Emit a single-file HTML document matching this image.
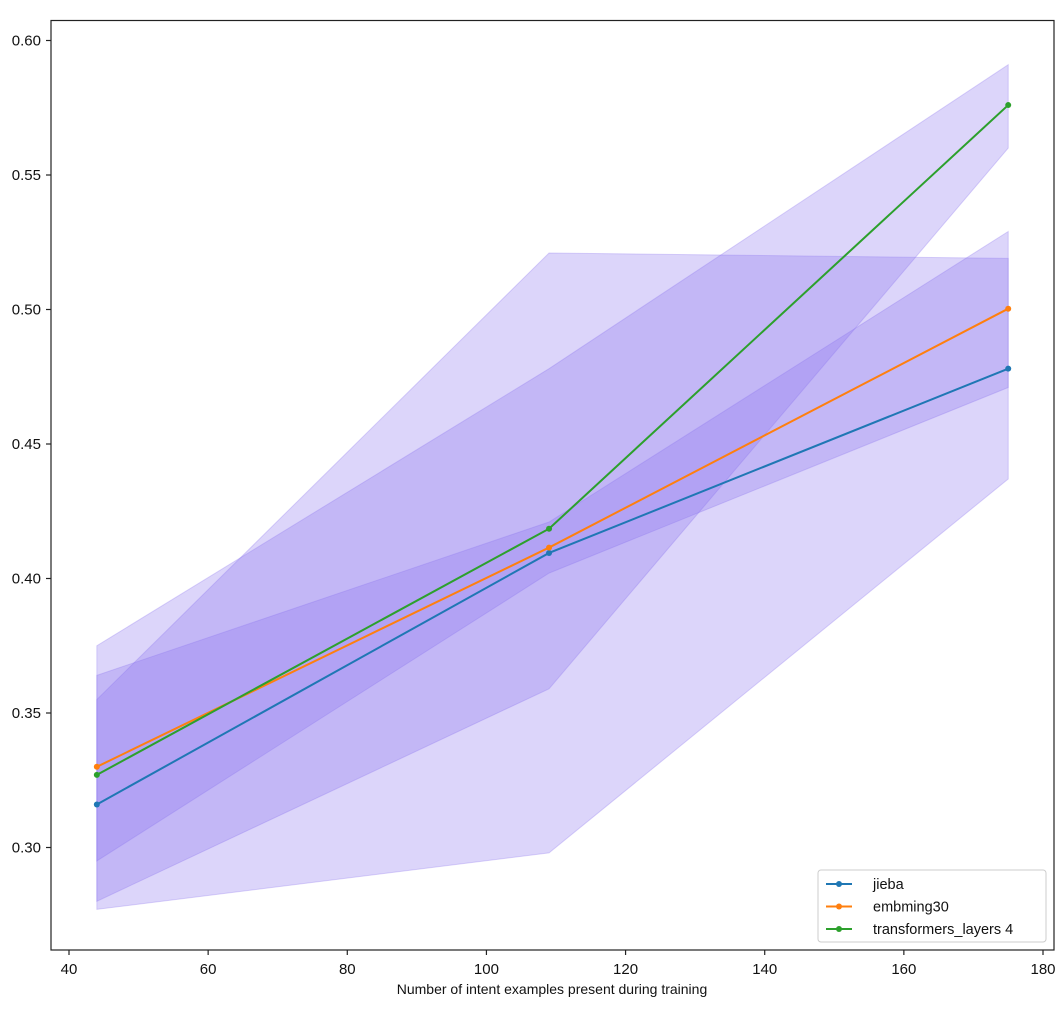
<!DOCTYPE html>
<html><head><meta charset="utf-8"><style>
html,body{margin:0;padding:0;background:#fff;}
svg{display:block;font-family:"Liberation Sans","DejaVu Sans",sans-serif;}
</style></head><body>
<svg id="chart" width="1064" height="1025" viewBox="0 0 1064 1025">
<g id="bands"></g>
<g id="lines"></g>
<rect x="51" y="20.5" width="1003" height="929.5" fill="none" stroke="#222" stroke-width="1.2"/>
<g id="xaxis"></g>
<g id="yaxis"></g>
<text x="552" y="994" font-size="14" text-anchor="middle" fill="#111">Number of intent examples present during training</text>
<g id="legend"></g>
</svg>
<script>
const xs = [44, 109, 175];
const seriesNames = ["jieba", "embming30", "transformers_layers 4"];
const seriesColors = ["#1f77b4", "#ff7f0e", "#2ca02c"];
const jiebaMean = [0.316, 0.4095, 0.478];
const embMean = [0.330, 0.4115, 0.5003];
const transMean = [0.327, 0.4185, 0.576];
const jiebaUpper = [0.355, 0.521, 0.519];
const jiebaLower = [0.277, 0.298, 0.437];
const embUpper = [0.364, 0.421, 0.529];
const embLower = [0.295, 0.402, 0.471];
const transUpper = [0.375, 0.478, 0.591];
const transLower = [0.280, 0.359, 0.560];
const xTicks = [40, 60, 80, 100, 120, 140, 160, 180];
const yTicks = [0.30, 0.35, 0.40, 0.45, 0.50, 0.55, 0.60];

const NS = "http://www.w3.org/2000/svg";
function X(v){ return 69 + (v - 40) * (974 / 140); }
function Y(v){ return 847.5 - (v - 0.30) * (134.5 / 0.05); }
function mk(tag, attrs, parent){ const e = document.createElementNS(NS, tag); for (const k in attrs) e.setAttribute(k, attrs[k]); parent.appendChild(e); return e; }

const means = [jiebaMean, embMean, transMean];
const uppers = [jiebaUpper, embUpper, transUpper];
const lowers = [jiebaLower, embLower, transLower];
const bands = document.getElementById("bands");
for (let s = 0; s < 3; s++) {
  let pts = xs.map((x, i) => X(x) + "," + Y(uppers[s][i]));
  for (let i = xs.length - 1; i >= 0; i--) pts.push(X(xs[i]) + "," + Y(lowers[s][i]));
  const p = mk("polygon", {points: pts.join(" "), fill: "#8a73ee", "fill-opacity": 0.3, stroke: "#8a73ee", "stroke-opacity": 0.3, "stroke-width": 1}, bands);
  
  
}
const lines = document.getElementById("lines");
for (let s = 0; s < 3; s++) {
  const pl = mk("polyline", {points: xs.map((x, i) => X(x) + "," + Y(means[s][i])).join(" "), fill: "none", stroke: seriesColors[s], "stroke-width": 2}, lines);
  
  
  xs.forEach((x, i) => {
    const c = mk("circle", {cx: X(x), cy: Y(means[s][i]), r: 3, fill: seriesColors[s]}, lines);
    
    
  });
}
const xa = document.getElementById("xaxis");
xTicks.forEach(t => {
  const l = mk("line", {x1: X(t), x2: X(t), y1: 950, y2: 955, stroke: "#222", "stroke-width": 1.2}, xa);
  
  
  const tx = mk("text", {x: X(t), y: 974, "font-size": 15, "text-anchor": "middle", fill: "#111"}, xa);
  tx.textContent = t;
  
  
});
const ya = document.getElementById("yaxis");
yTicks.forEach(t => {
  const l = mk("line", {x1: 46, x2: 51, y1: Y(t), y2: Y(t), stroke: "#222", "stroke-width": 1.2}, ya);
  
  
  const tx = mk("text", {x: 41, y: Y(t) + 5, "font-size": 15, "text-anchor": "end", fill: "#111"}, ya);
  tx.textContent = t.toFixed(2);
  
  
});
const lg = document.getElementById("legend");
const box = mk("rect", {x: 818, y: 870, width: 228, height: 72, rx: 3, fill: "#fff", "fill-opacity": 0.85, stroke: "#ccc", "stroke-width": 1}, lg);


seriesNames.forEach((n, i) => {
  const y = 884 + i * 22.5;
  const l = mk("line", {x1: 826, x2: 852, y1: y, y2: y, stroke: seriesColors[i], "stroke-width": 2}, lg);
  
  
  const c = mk("circle", {cx: 839, cy: y, r: 3, fill: seriesColors[i]}, lg);
  
  
  const tx = mk("text", {x: 873, y: y + 5, "font-size": 14.5, fill: "#111"}, lg);
  tx.textContent = n;
  
  
});
</script>
</body></html>
